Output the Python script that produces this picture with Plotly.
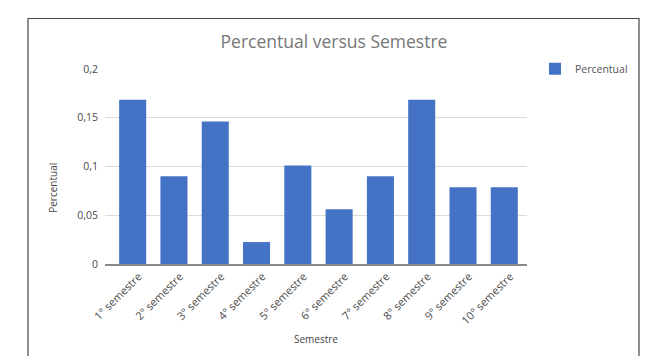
import plotly.graph_objects as go

# Share of students per semester (n/89)
semestres = ["1° semestre", "2° semestre", "3° semestre", "4° semestre", "5° semestre",
             "6° semestre", "7° semestre", "8° semestre", "9° semestre", "10° semestre"]
percentual = [0.1685, 0.0899, 0.1461, 0.0225, 0.1011, 0.0562, 0.0899, 0.1685, 0.0787, 0.0787]
y_ticks = [0, 0.05, 0.1, 0.15, 0.2]

W, H = 651, 356
ml, mr, mt, mb = 105, 124, 69, 90
pw, ph = W - ml - mr, H - mt - mb


def px_x(px):
    return (px - ml) / pw


def px_y(py):
    return (H - mb - py) / ph


fig = go.Figure(go.Bar(
    x=list(range(len(semestres))), y=percentual, name="Percentual",
    marker=dict(color="#4472c4", line=dict(width=0)),
    showlegend=True,
))

fig.update_layout(
    width=W, height=H,
    margin=dict(l=ml, r=mr, t=mt, b=mb),
    paper_bgcolor="white", plot_bgcolor="white",
    separators=",.",
    bargap=0.345,
    font=dict(family="Open Sans", color="#555555", size=10),
    title=dict(text="Percentual versus Semestre", x=px_x(334), xref="paper", xanchor="center",
               y=1 - 42 / H, yanchor="middle",
               font=dict(family="Open Sans", size=17.5, color="#777777")),
    legend=dict(x=px_x(535), y=px_y(54), xanchor="left", yanchor="top",
                font=dict(family="Open Sans", size=10.5, color="#555555"),
                bgcolor="rgba(0,0,0,0)", itemwidth=30),
    xaxis=dict(
        tickmode="array", tickvals=list(range(len(semestres))), ticktext=semestres,
        range=[-0.67, 9.55],
        tickangle=-45, showgrid=False, ticks="", ticklabelshift=6,
        showline=True, linecolor="#8a8a8a", linewidth=1.5,
        title=dict(text="Semestre", font=dict(size=10, color="#444444"), standoff=10),
        tickfont=dict(size=11, color="#4a4a4a"),
    ),
    yaxis=dict(
        range=[0, 0.2], tickvals=y_ticks, tickformat="",
        showgrid=True, gridcolor="#dcdcdc", gridwidth=1, zeroline=False,
        showline=False, ticks="", ticklabelstandoff=6,
        tickfont=dict(size=10.5, color="#4a4a4a"),
    ),
    annotations=[dict(text="Percentual", xref="paper", yref="paper",
                      x=px_x(53), y=px_y(189), textangle=-90, showarrow=False,
                      xanchor="center", yanchor="middle",
                      font=dict(size=10, color="#444444"))],
    shapes=[dict(type="rect", xref="paper", yref="paper",
                 x0=px_x(28), x1=px_x(639), y0=px_y(400), y1=px_y(18),
                 line=dict(color="#444444", width=1.2), layer="above")],
)

fig.write_html("out.html")
